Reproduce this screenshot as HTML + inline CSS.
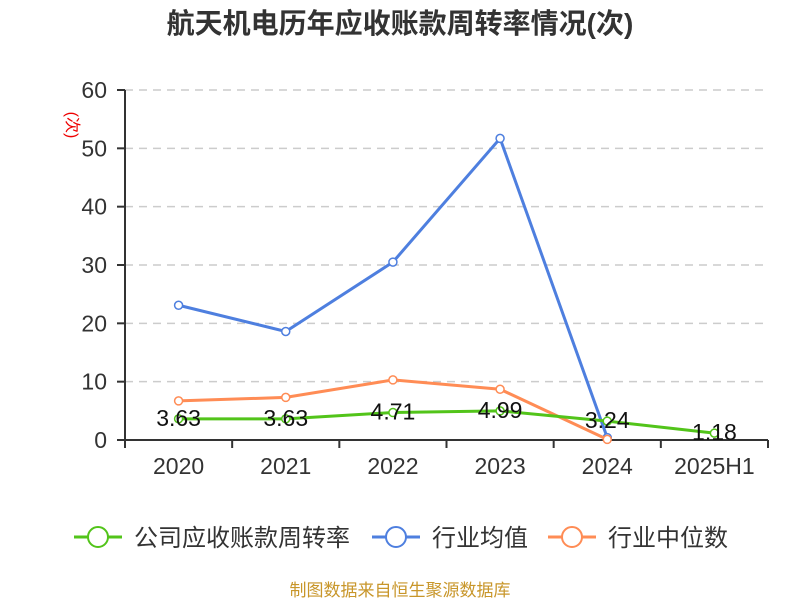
<!DOCTYPE html>
<html><head><meta charset="utf-8"><style>
body{margin:0;background:#fff;}
svg text{font-family:"Liberation Sans","Noto Sans CJK SC",sans-serif;}
</style></head><body>
<svg id="chart" width="800" height="600" xmlns="http://www.w3.org/2000/svg">
<text x="400" y="33" text-anchor="middle" font-size="28" font-weight="bold" fill="#333">航天机电历年应收账款周转率情况(次)</text>
<text transform="translate(67,125) rotate(90)" text-anchor="middle" font-size="16" fill="#e00">(次)</text>
<g id="grid"></g><g id="axes"></g><g id="series"></g>
<g>
<g><line x1="74" y1="537" x2="122" y2="537" stroke="#52c41a" stroke-width="3"/><circle cx="98" cy="537" r="10" fill="#fff" stroke="#52c41a" stroke-width="2"/><text x="134" y="546" font-size="24" fill="#333">公司应收账款周转率</text></g>
<g><line x1="372" y1="537" x2="420" y2="537" stroke="#4e7fdf" stroke-width="3"/><circle cx="396" cy="537" r="10" fill="#fff" stroke="#4e7fdf" stroke-width="2"/><text x="432" y="546" font-size="24" fill="#333">行业均值</text></g>
<g><line x1="548" y1="537" x2="596" y2="537" stroke="#ff8c55" stroke-width="3"/><circle cx="572" cy="537" r="10" fill="#fff" stroke="#ff8c55" stroke-width="2"/><text x="608" y="546" font-size="24" fill="#333">行业中位数</text></g>
</g>
<text x="400" y="596" text-anchor="middle" font-size="17" fill="#c8962a">制图数据来自恒生聚源数据库</text>
</svg>
<script>
const categories=["2020","2021","2022","2023","2024","2025H1"];
const companyValues=[3.63,3.63,4.71,4.99,3.24,1.18];
const avgValues=[23.1,18.6,30.5,51.7,0.4,null];
const medianValues=[6.7,7.3,10.3,8.7,0.1,null];
const yTicks=[0,10,20,30,40,50,60];
const NS="http://www.w3.org/2000/svg";
const L=125,R=768,T=90,B=440,yMax=60;
const bw=(R-L)/categories.length;
const xs=i=>L+bw*(i+0.5);
const ys=v=>B-(v/yMax)*(B-T);
function mk(tag,attrs,parent,txt){const e=document.createElementNS(NS,tag);for(const k in attrs)e.setAttribute(k,attrs[k]);if(txt!==undefined)e.textContent=txt;parent.appendChild(e);return e;}
const grid=document.getElementById('grid'),axes=document.getElementById('axes'),ser=document.getElementById('series');
yTicks.forEach(t=>{
 if(t>0){const g=mk('line',{x1:L,x2:R,y1:ys(t),y2:ys(t),stroke:'#ccc','stroke-dasharray':'8,6','stroke-width':1.5},grid);
 }
 const tk=mk('line',{x1:L-8,x2:L,y1:ys(t),y2:ys(t),stroke:'#333','stroke-width':2},axes);
 
 const lb=mk('text',{x:L-18,y:ys(t)+8,'text-anchor':'end','font-size':23,fill:'#333'},axes,t);
 
});
let a=mk('line',{x1:L,x2:L,y1:T,y2:B,stroke:'#333','stroke-width':2},axes);

a=mk('line',{x1:L,x2:R,y1:B,y2:B,stroke:'#333','stroke-width':2},axes);

for(let i=0;i<=categories.length;i++){const tk=mk('line',{x1:L+bw*i,x2:L+bw*i,y1:B,y2:B+8,stroke:'#333','stroke-width':2},axes);
 }
categories.forEach((c,i)=>{const lb=mk('text',{x:xs(i),y:474,'text-anchor':'middle','font-size':23,fill:'#333'},axes,c);
 });
function series(vals,color,name,labels){
 const pts=vals.map((v,i)=>v==null?null:[xs(i),ys(v)]).filter(p=>p);
 const pl=mk('polyline',{points:pts.map(p=>p.join(',')).join(' '),fill:'none',stroke:color,'stroke-width':3},ser);
 
 vals.forEach((v,i)=>{if(v==null)return;
  const c=mk('circle',{cx:xs(i),cy:ys(v),r:4,fill:'#fff',stroke:color,'stroke-width':1.5},ser);
  
  if(labels){const t=mk('text',{x:xs(i),y:ys(v)+7,'text-anchor':'middle','font-size':23,fill:'#111'},ser,v.toFixed(2));
   }
 });
}
series(avgValues,'#4e7fdf','industry-avg',false);
series(medianValues,'#ff8c55','industry-median',false);
series(companyValues,'#52c41a','company',true);
</script>
</body></html>
